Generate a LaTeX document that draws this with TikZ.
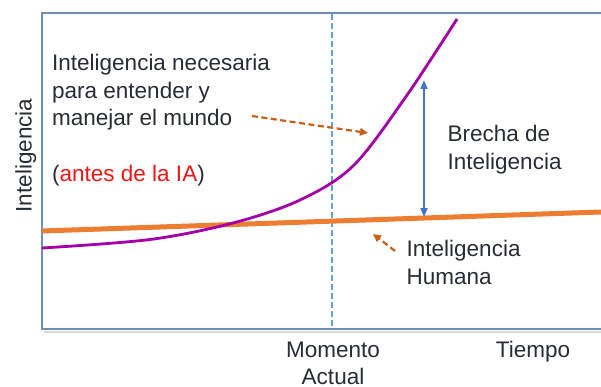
\documentclass[tikz,border=0pt]{standalone}
\usepackage{fontspec}
\setmainfont{Liberation Sans}
\usetikzlibrary{arrows.meta}
\definecolor{framecol}{RGB}{108,143,185}
\definecolor{txt}{RGB}{40,44,52}
\definecolor{purp}{RGB}{163,0,170}
\definecolor{orangeline}{RGB}{237,125,49}
\definecolor{orangedash}{RGB}{200,95,25}
\definecolor{bluearrow}{RGB}{68,114,196}
\definecolor{bluedash}{RGB}{100,160,215}
\definecolor{redtxt}{RGB}{240,20,20}
\tikzset{
  lbl/.style={inner sep=0pt, text=txt, font=\fontsize{22.5}{27.4}\selectfont},
  framestyle/.style={draw=framecol, line width=1.8pt},
  pointer/.style={draw=orangedash, line width=2.2pt, dash pattern=on 6pt off 3.5pt, -{Triangle[length=8pt,width=7.5pt]}},
  gap/.style={draw=bluearrow, line width=2pt, {Triangle[length=9pt,width=7pt]}-{Triangle[length=9pt,width=7pt]}},
  nowline/.style={draw=bluedash, line width=1.3pt, dash pattern=on 6pt off 3pt},
}
\begin{document}
\begin{tikzpicture}[x=1pt,y=-1pt]
\useasboundingbox (0,0) rectangle (601,387);
% frame
\coordinate (tr) at (601,13);
\coordinate (tl) at (42,13);
\coordinate (bl) at (42,329);
\coordinate (br) at (601,329);
\draw[draw=black!15, line width=2pt] (44,331.5) -- (601,331.5);
\draw[framestyle] (tr) -- (tl) -- (bl) -- (br);
% current moment dashed line
\coordinate (nowtop) at (332,14);
\coordinate (nowbot) at (332,328);
\draw[nowline] (nowtop) -- (nowbot);
% human intelligence line
\coordinate (hstart) at (42,231);
\coordinate (hend) at (601,212);
\draw[draw=orangeline, line width=5pt] (hstart) -- (hend);
% required intelligence curve
\draw[draw=purp, line width=2.8pt] plot[smooth, tension=0.55] coordinates {
 (42,248) (150,239.5) (233,223) (300,200) (353,166) (405,98) (457,19)};
% gap arrow
\coordinate (gaplow) at (424,217);
\coordinate (gaphigh) at (424,80);
\draw[gap] (gaplow) -- (gaphigh);
% texts
\node[lbl, anchor=base west] (need1) at (52,70.7) {Inteligencia necesaria};
\node[lbl, anchor=base west] (need2) at (52,98.2) {para entender y};
\node[lbl, anchor=base west] (need3) at (52,125.5) {manejar el mundo};
\node[lbl, anchor=base west] (before) at (52,181.5) {(\textcolor{redtxt}{antes de la IA})};
\node[lbl, anchor=base west] (gap1) at (447.5,142) {Brecha de};
\node[lbl, anchor=base west] (gap2) at (447.5,169.3) {Inteligencia};
\node[lbl, anchor=base west] (hum1) at (406.5,256.7) {Inteligencia};
\node[lbl, anchor=base west] (hum2) at (406.5,284) {Humana};
\node[lbl, anchor=base] (mom1) at (333,357.5) {Momento};
\node[lbl, anchor=base] (mom2) at (333,384) {Actual};
\node[lbl, anchor=base] (time) at (533,357) {Tiempo};
\node[lbl, anchor=base, rotate=90] (yaxis) at (31.5,155.5) {Inteligencia};
% pointers
\coordinate (p1s) at (252,116);
\coordinate (p1e) at (368,133);
\draw[pointer] (p1s) -- (p1e);
\coordinate (p2s) at (395,251);
\coordinate (p2e) at (373,234);
\draw[pointer] (p2s) -- (p2e);
\end{tikzpicture}
\end{document}
